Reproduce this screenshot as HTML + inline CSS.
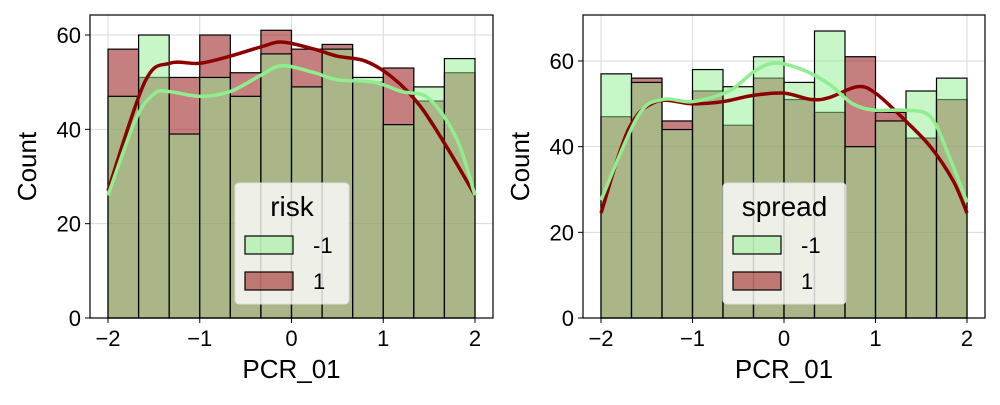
<!DOCTYPE html>
<html><head><meta charset="utf-8"><style>
body{margin:0;background:#fff;}
svg text{font-family:"Liberation Sans","DejaVu Sans",sans-serif;fill:#000;}
</style></head><body>
<svg id="c" width="1000" height="400" xmlns="http://www.w3.org/2000/svg"></svg>
<script>
const binEdges=[-2,-1.6667,-1.3333,-1,-0.6667,-0.3333,0,0.3333,0.6667,1,1.3333,1.6667,2];
const xTicks=[-2,-1,0,1,2];
const xTickLabels=["−2","−1","0","1","2"];
const yTicks=[0,20,40,60];
const leftGreen=[47,60,39,51,47,56,49,57,51,41,49,55];
const leftRed=[57,51,51,60,52,61,57,58,50,53,46,52];
const rightGreen=[57,55,44,58,54,61,55,67,40,46,53,56];
const rightRed=[47,56,46,53,45,56,51,48,61,48,42,51];
const leftRedKdeX=[-2,-1.6,-1.33,-1,-0.67,-0.33,-0.1,0.25,0.5,0.8,1.1,1.4,1.7,2];
const leftRedKdeY=[27,50,54,54,55.5,57.5,58.5,57,55.5,54.5,51,45,36,26];
const leftGreenKdeX=[-2,-1.7,-1.5,-1.33,-1,-0.67,-0.33,-0.1,0.25,0.5,0.9,1.2,1.5,1.8,2];
const leftGreenKdeY=[26,42,47.5,48,47,48,51.5,53.5,52,50.5,50,48,46.5,38,26];
const rightGreenKdeX=[-2,-1.6,-1.33,-1,-0.6,-0.33,-0.1,0.2,0.5,0.75,1,1.33,1.6,1.8,2];
const rightGreenKdeY=[27.5,47,51,50.5,53,57.5,59.5,58,54.5,50,48.5,48.5,47,38,27];
const rightRedKdeX=[-2,-1.7,-1.4,-1,-0.67,-0.33,0,0.3,0.5,0.8,1,1.33,1.6,1.85,2];
const rightRedKdeY=[24.5,44,50.5,50,50.5,52,52.5,51,51.5,54,52.5,46,40,32,24.5];

const svg=document.getElementById('c');
const NS='http://www.w3.org/2000/svg';
function mk(tag,attrs,parent){const e=document.createElementNS(NS,tag);for(const k in attrs)e.setAttribute(k,attrs[k]);(parent||svg).appendChild(e);return e;}

function smooth(pts){let d='M'+pts[0][0]+','+pts[0][1];
 for(let i=0;i<pts.length-1;i++){const p0=pts[Math.max(0,i-1)],p1=pts[i],p2=pts[i+1],p3=pts[Math.min(pts.length-1,i+2)];
 const c1=[p1[0]+(p2[0]-p0[0])/6,p1[1]+(p2[1]-p0[1])/6],c2=[p2[0]-(p3[0]-p1[0])/6,p2[1]-(p3[1]-p1[1])/6];
 d+=' C'+c1[0]+','+c1[1]+' '+c2[0]+','+c2[1]+' '+p2[0]+','+p2[1];}return d;}

function panel(cfg){
 const {L,R,T,B,x0px,x2px,ymaxVal,ymaxPx,green,red,gkx,gky,rkx,rky,title,prefix,legX,legW}=cfg;
 const g=mk('g',{});
 
 
 const xs=v=>x0px+(v+2)/4*(x2px-x0px);
 const ys=v=>B-v/ymaxVal*(B-ymaxPx);
 xTicks.forEach(t=>{const l=mk('line',{x1:xs(t),x2:xs(t),y1:T,y2:B,stroke:'#d9d9d9','stroke-width':1},g);});
 yTicks.forEach(t=>{const l=mk('line',{x1:L,x2:R,y1:ys(t),y2:ys(t),stroke:'#d9d9d9','stroke-width':1},g);});
 [[red,'rgba(139,0,0,0.5)','red'],[green,'rgba(144,238,144,0.5)','green']].forEach(([arr,col,nm])=>{
  arr.forEach((v,i)=>{const x1=xs(binEdges[i]),x2=xs(binEdges[i+1]);
   const r=mk('rect',{x:x1,y:ys(v),width:x2-x1,height:ys(0)-ys(v),fill:col,stroke:'#000','stroke-width':1.2},g);
   
   });
 });
 const rp=mk('path',{d:smooth(rkx.map((x,i)=>[xs(x),ys(rky[i])])),fill:'none',stroke:'#8b0000','stroke-width':3.5},g);
 
 
 const gp=mk('path',{d:smooth(gkx.map((x,i)=>[xs(x),ys(gky[i])])),fill:'none',stroke:'#90ee90','stroke-width':3.5},g);
 
 
 const fr=mk('rect',{x:L,y:T,width:R-L,height:B-T,fill:'none',stroke:'#000','stroke-width':1.2},g);
 
 
 xTicks.forEach((t,i)=>{mk('line',{x1:xs(t),x2:xs(t),y1:B,y2:B+5,stroke:'#000'},g);
  const tx=mk('text',{x:xs(t),y:B+28,'font-size':22,'text-anchor':'middle'},g);tx.textContent=xTickLabels[i];
  });
 yTicks.forEach(t=>{mk('line',{x1:L-5,x2:L,y1:ys(t),y2:ys(t),stroke:'#000'},g);
  const tx=mk('text',{x:L-9,y:ys(t)+8,'font-size':22,'text-anchor':'end'},g);tx.textContent=t;
  });
 const xl=mk('text',{x:(L+R)/2,y:378,'font-size':26,'text-anchor':'middle'},g);xl.textContent='PCR_01';
 
 const yl=mk('text',{x:0,y:0,'font-size':26,'text-anchor':'middle',transform:`translate(${L-54},${(T+B)/2}) rotate(-90)`},g);yl.textContent='Count';
 
 const lg=mk('g',{},g);
 
 
 mk('rect',{x:legX,y:183,width:legW,height:121,rx:4,fill:'rgba(255,255,255,0.8)',stroke:'#ddd'},lg);
 const lt=mk('text',{x:legX+legW/2,y:216,'font-size':28,'text-anchor':'middle'},lg);lt.textContent=title;
 
 [['-1','rgba(144,238,144,0.5)',236],['1','rgba(139,0,0,0.5)',272]].forEach(([lab,col,y])=>{
  const e=mk('rect',{x:legX+10,y:y,width:48,height:18,fill:col,stroke:'#000','stroke-width':1.2},lg);
  
  const t=mk('text',{x:legX+78,y:y+17,'font-size':22},lg);t.textContent=lab;
  });
}
panel({L:90,R:493,T:15,B:318,x0px:108,x2px:475,ymaxVal:60,ymaxPx:35,green:leftGreen,red:leftRed,gkx:leftGreenKdeX,gky:leftGreenKdeY,rkx:leftRedKdeX,rky:leftRedKdeY,title:'risk',prefix:'left',legX:235,legW:114});
panel({L:583,R:985,T:15,B:318,x0px:601,x2px:967,ymaxVal:60,ymaxPx:61,green:rightGreen,red:rightRed,gkx:rightGreenKdeX,gky:rightGreenKdeY,rkx:rightRedKdeX,rky:rightRedKdeY,title:'spread',prefix:'right',legX:723,legW:123});
</script>
</body></html>
